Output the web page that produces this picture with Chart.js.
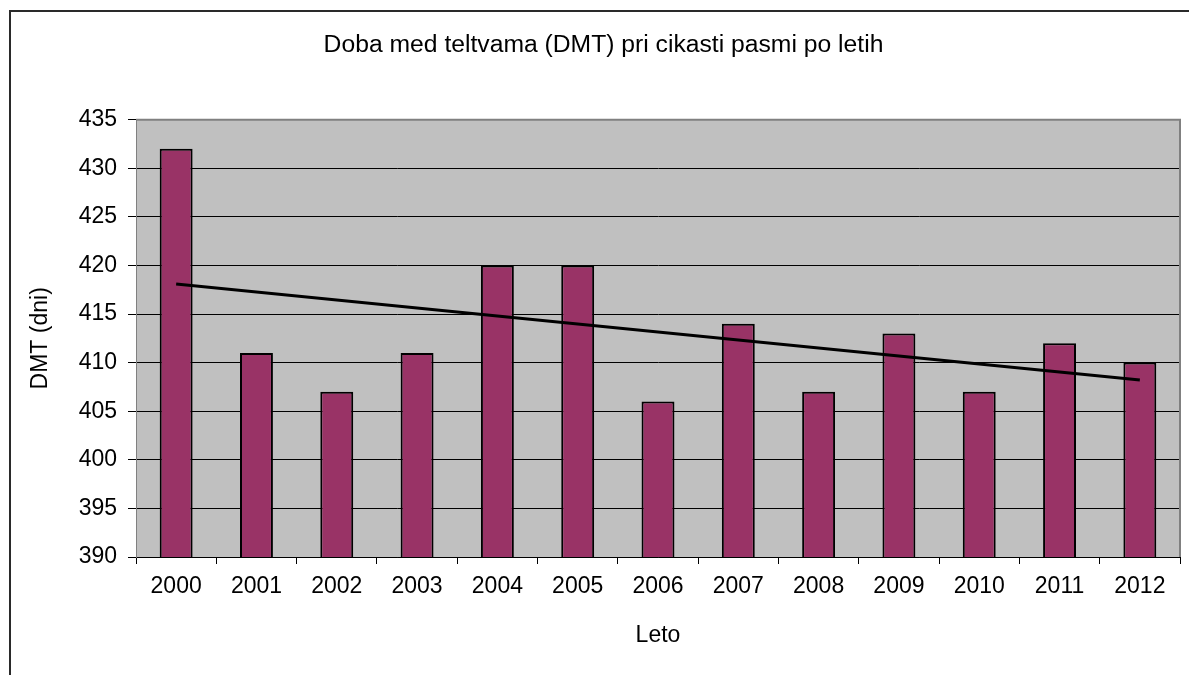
<!DOCTYPE html>
<html>
<head>
<meta charset="utf-8">
<script src="https://cdn.jsdelivr.net/npm/chart.js@4/dist/chart.umd.min.js"></script>
<style>
  html, body { margin: 0; padding: 0; background: #fff; overflow: hidden; width: 1189px; height: 675px; }
  #wrap { position: absolute; left: 0; top: 0; width: 1210px; height: 675px; }
  #frame { position: absolute; left: 9px; top: 10px; width: 1200px; height: 700px; border: 2px solid #2a2a2a; box-sizing: border-box; pointer-events: none; }
</style>
</head>
<body>
<div id="wrap"><canvas id="c" width="1210" height="675"></canvas></div>
<div id="frame"></div>
<script>
const categories = ['2000','2001','2002','2003','2004','2005','2006','2007','2008','2009','2010','2011','2012'];
const dmtValues = [432, 411, 407, 411, 420, 420, 406, 414, 407, 413, 407, 412, 410];
const trendValues = [418.1, null, null, null, null, null, null, null, null, null, null, null, 408.2];
const yTicks = [390, 395, 400, 405, 410, 415, 420, 425, 430, 435];

const FONT = 'Liberation Sans, Arial, sans-serif';

const plotBg = {
  id: 'plotBg',
  beforeDraw(chart) {
    const a = chart.chartArea, ctx = chart.ctx;
    ctx.save();
    ctx.fillStyle = '#C0C0C0';
    ctx.fillRect(a.left, a.top, a.right - a.left, a.bottom - a.top);
    ctx.restore();
  },
  afterDatasetsDraw(chart) {
    const a = chart.chartArea, ctx = chart.ctx;
    ctx.save();
    ctx.strokeStyle = '#808080';
    ctx.lineWidth = 2;
    ctx.beginPath();
    ctx.moveTo(a.left, a.top);
    ctx.lineTo(a.right, a.top);
    ctx.lineTo(a.right, a.bottom);
    ctx.stroke();
    ctx.restore();
  }
};

new Chart(document.getElementById('c'), {
  data: {
    labels: categories,
    datasets: [
      {
        type: 'line',
        data: trendValues,
        spanGaps: true,
        borderColor: '#000',
        borderWidth: 3,
        pointRadius: 0,
        fill: false,
        order: 0
      },
      {
        type: 'bar',
        data: dmtValues,
        backgroundColor: '#993366',
        borderColor: '#000',
        borderWidth: 2,
        barPercentage: 0.41,
        categoryPercentage: 1.0,
        order: 1
      }
    ]
  },
  options: {
    responsive: false,
    animation: false,
    layout: { padding: { left: 27, right: 30, top: 0, bottom: 0 } },
    plugins: {
      legend: { display: false },
      tooltip: { enabled: false },
      title: {
        display: true,
        text: 'Doba med teltvama (DMT) pri cikasti pasmi po letih',
        color: '#000',
        font: { family: FONT, size: 24.7, weight: 'normal' },
        padding: { top: 30, bottom: 60 }
      }
    },
    scales: {
      x: {
        offset: true,
        grid: { display: true, drawOnChartArea: false, drawTicks: true, tickLength: 7, color: '#000', offset: true },
        border: { display: true, color: '#000', width: 1 },
        ticks: { color: '#000', font: { family: FONT, size: 23 }, padding: 9, maxRotation: 0 },
        title: { display: true, text: 'Leto', color: '#000', font: { family: FONT, size: 23 }, padding: { top: 0, bottom: 26 } },
        afterFit(s) { s.height = 118; }
      },
      y: {
        min: 390,
        max: 435,
        afterBuildTicks(s) { s.ticks = yTicks.map(v => ({ value: v })); },
        grid: { color: '#000', lineWidth: 1, tickLength: 8, drawTicks: true },
        border: { display: true, color: '#808080', width: 1 },
        ticks: { color: '#000', font: { family: FONT, size: 23 }, padding: 11 },
        title: { display: true, text: 'DMT (dni)', color: '#000', font: { family: FONT, size: 23 }, padding: 0 },
        afterFit(s) { s.width = 109; }
      }
    }
  },
  plugins: [plotBg]
});
</script>
</body>
</html>
